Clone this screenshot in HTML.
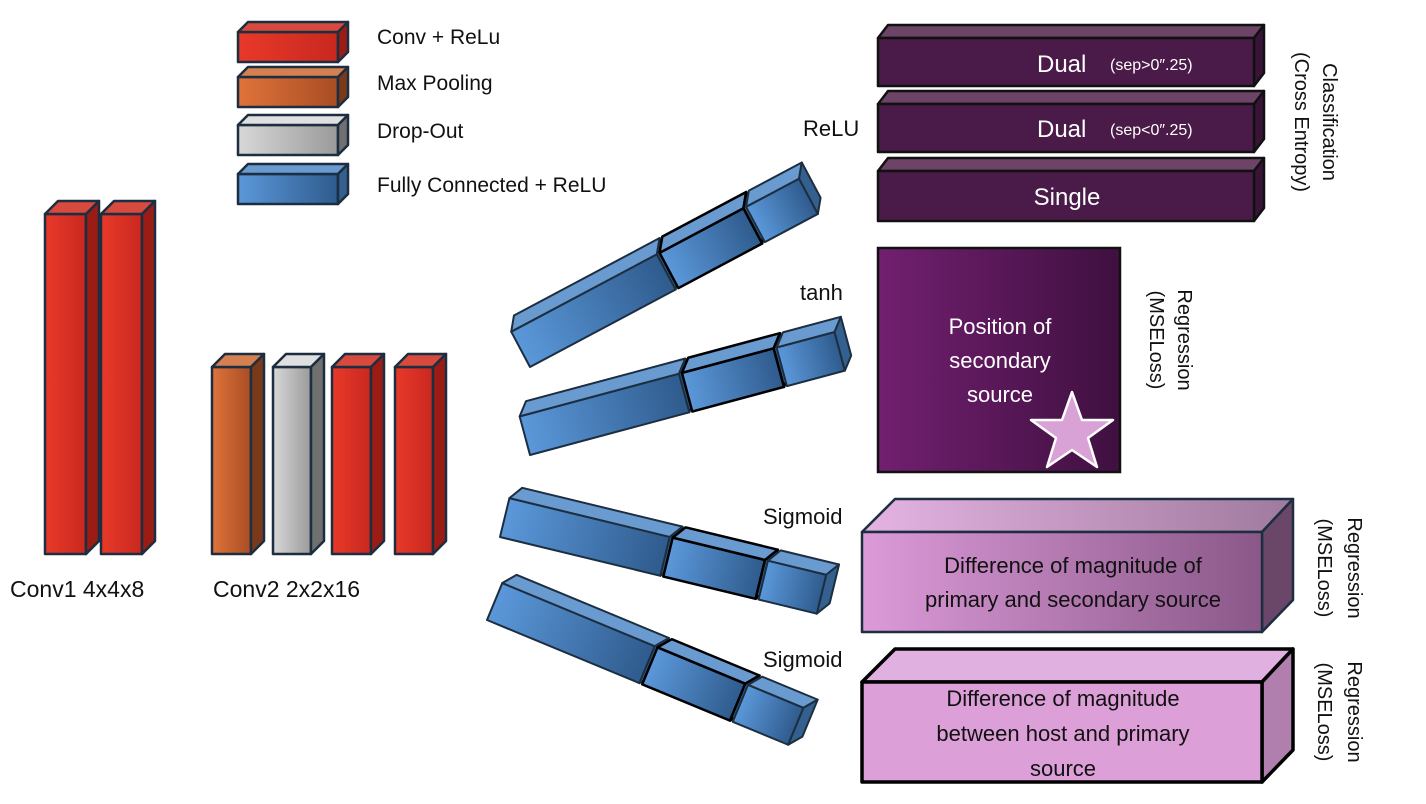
<!DOCTYPE html>
<html><head><meta charset="utf-8"><style>
html,body{margin:0;padding:0;background:#fff;}
svg{display:block;font-family:"Liberation Sans",sans-serif;}
</style></head><body>
<svg width="1426" height="804" viewBox="0 0 1426 804" xmlns="http://www.w3.org/2000/svg">
<defs>
<linearGradient id="red" x1="0" x2="1"><stop offset="0" stop-color="#e8392a"/><stop offset="1" stop-color="#c9281e"/></linearGradient>
<linearGradient id="org" x1="0" x2="1"><stop offset="0" stop-color="#e0733a"/><stop offset="1" stop-color="#a84d24"/></linearGradient>
<linearGradient id="gry" x1="0" x2="1"><stop offset="0" stop-color="#d8d8d8"/><stop offset="1" stop-color="#9a9a9a"/></linearGradient>
<linearGradient id="blu" x1="0" x2="1"><stop offset="0" stop-color="#5b98da"/><stop offset="1" stop-color="#2f5b8d"/></linearGradient>
<linearGradient id="pos" x1="0" x2="1"><stop offset="0" stop-color="#721f70"/><stop offset="1" stop-color="#3f1040"/></linearGradient>
<linearGradient id="mag" x1="0" x2="1"><stop offset="0" stop-color="#dc9ad9"/><stop offset="1" stop-color="#8a5888"/></linearGradient>
<linearGradient id="magtop" x1="0" x2="1"><stop offset="0" stop-color="#e4b3e2"/><stop offset="1" stop-color="#a07a9e"/></linearGradient>
<g id="fcs" stroke="#1c2e40" stroke-width="2" stroke-linejoin="round">
 <rect x="0" y="-40" width="165" height="40" fill="url(#blu)"/>
 <polygon points="0,-40 10,-53 175,-53 165,-40" fill="#6a9bd0"/>
 <polygon points="165,-40 175,-53 175,-13 165,0" fill="#34608f"/>
 <g stroke="#000" stroke-width="2.5">
 <rect x="168" y="-40" width="95" height="40" fill="url(#blu)"/>
 <polygon points="168,-40 178,-53 273,-53 263,-40" fill="#6a9bd0"/>
 <polygon points="263,-40 273,-53 273,-13 263,0" fill="#34608f"/>
 </g>
 <rect x="266" y="-40" width="60" height="40" fill="url(#blu)"/>
 <polygon points="266,-40 276,-53 336,-53 326,-40" fill="#6a9bd0"/>
 <polygon points="326,-40 336,-53 336,-13 326,0" fill="#34608f"/>
</g>
<g id="tall" stroke="#1c2e40" stroke-width="2.5" stroke-linejoin="round">
 <rect x="0" y="0" width="41" height="340" fill="url(#red)"/>
 <polygon points="0,0 13,-13 54,-13 41,0" fill="#d84a3e"/>
 <polygon points="41,0 54,-13 54,327 41,340" fill="#9a1c15"/>
</g>
</defs>

<!-- legend -->
<g stroke="#1c2e40" stroke-width="2.5" stroke-linejoin="round">
 <g transform="translate(238,32)"><rect width="100" height="30" fill="url(#red)"/><polygon points="0,0 10,-10 110,-10 100,0" fill="#d84a3e"/><polygon points="100,0 110,-10 110,20 100,30" fill="#9a1c15"/></g>
 <g transform="translate(238,77)"><rect width="100" height="30" fill="url(#org)"/><polygon points="0,0 10,-10 110,-10 100,0" fill="#d58050"/><polygon points="100,0 110,-10 110,20 100,30" fill="#7a3a1a"/></g>
 <g transform="translate(238,125)"><rect width="100" height="30" fill="url(#gry)"/><polygon points="0,0 10,-10 110,-10 100,0" fill="#e0e0e0"/><polygon points="100,0 110,-10 110,20 100,30" fill="#707070"/></g>
 <g transform="translate(238,174)"><rect width="100" height="30" fill="url(#blu)"/><polygon points="0,0 10,-10 110,-10 100,0" fill="#6a9bd0"/><polygon points="100,0 110,-10 110,20 100,30" fill="#34608f"/></g>
</g>
<g font-size="21" fill="#111">
 <text x="377" y="44">Conv + ReLu</text>
 <text x="377" y="90">Max Pooling</text>
 <text x="377" y="138">Drop-Out</text>
 <text x="377" y="192">Fully Connected + ReLU</text>
</g>

<!-- conv pillars -->
<use href="#tall" transform="translate(45,214)"/>
<use href="#tall" transform="translate(101,214)"/>
<g stroke="#1c2e40" stroke-width="2.5" stroke-linejoin="round">
 <g transform="translate(212,367)"><rect width="39" height="187" fill="url(#org)"/><polygon points="0,0 13,-13 52,-13 39,0" fill="#d58050"/><polygon points="39,0 52,-13 52,174 39,187" fill="#7a3a1a"/></g>
 <g transform="translate(273,367)"><rect width="38" height="187" fill="url(#gry)"/><polygon points="0,0 13,-13 51,-13 38,0" fill="#e0e0e0"/><polygon points="38,0 51,-13 51,174 38,187" fill="#707070"/></g>
 <g transform="translate(332,367)"><rect width="39" height="187" fill="url(#red)"/><polygon points="0,0 13,-13 52,-13 39,0" fill="#d84a3e"/><polygon points="39,0 52,-13 52,174 39,187" fill="#9a1c15"/></g>
 <g transform="translate(395,367)"><rect width="38" height="187" fill="url(#red)"/><polygon points="0,0 13,-13 51,-13 38,0" fill="#d84a3e"/><polygon points="38,0 51,-13 51,174 38,187" fill="#9a1c15"/></g>
</g>
<g font-size="23" fill="#111">
 <text x="10" y="597">Conv1 4x4x8</text>
 <text x="213" y="597">Conv2 2x2x16</text>
</g>

<!-- FC groups -->
<use href="#fcs" transform="translate(530,367) rotate(-28)"/>
<use href="#fcs" transform="translate(530,455) rotate(-15)"/>
<use href="#fcs" transform="translate(500,537) rotate(13.6)"/>
<use href="#fcs" transform="translate(487,620) rotate(22.5)"/>

<g font-size="22" fill="#111">
 <text x="803" y="136">ReLU</text>
 <text x="800" y="300">tanh</text>
 <text x="763" y="524">Sigmoid</text>
 <text x="763" y="667">Sigmoid</text>
</g>

<!-- classification boxes -->
<g stroke="#111" stroke-width="2.5" stroke-linejoin="round">
 <g transform="translate(878,38)"><polygon points="0,0 10,-13 386,-13 376,0" fill="#6d4468"/><polygon points="376,0 386,-13 386,35 376,48" fill="#3a1338"/><rect width="376" height="48" fill="#4a1a48"/></g>
 <g transform="translate(878,104)"><polygon points="0,0 10,-13 386,-13 376,0" fill="#6d4468"/><polygon points="376,0 386,-13 386,35 376,48" fill="#3a1338"/><rect width="376" height="48" fill="#4a1a48"/></g>
 <g transform="translate(878,171)"><polygon points="0,0 10,-13 386,-13 376,0" fill="#6d4468"/><polygon points="376,0 386,-13 386,37 376,50" fill="#3a1338"/><rect width="376" height="50" fill="#4a1a48"/></g>
</g>
<g fill="#fff">
 <text x="1037" y="72" font-size="24">Dual</text><text x="1110" y="70" font-size="16">(sep&gt;0&#8243;.25)</text>
 <text x="1037" y="137" font-size="24">Dual</text><text x="1110" y="135" font-size="16">(sep&lt;0&#8243;.25)</text>
 <text x="1067" y="205" font-size="24" text-anchor="middle">Single</text>
</g>

<!-- position box -->
<rect x="878" y="248" width="242" height="224" fill="url(#pos)" stroke="#111" stroke-width="2.5"/>
<g fill="#fff" font-size="22" text-anchor="middle">
 <text x="1000" y="334">Position of</text>
 <text x="1000" y="368">secondary</text>
 <text x="1000" y="402">source</text>
</g>
<polygon points="1072,392 1082,420 1113,420 1088,438 1097,467 1072,450 1047,467 1056,438 1031,420 1062,420" fill="#d9a2d6" stroke="#fff" stroke-width="2.5" stroke-linejoin="round"/>

<!-- magnitude boxes -->
<g stroke="#1c2e40" stroke-width="2.5" stroke-linejoin="round">
 <polygon points="862,532 895,499 1293,499 1262,532" fill="url(#magtop)"/>
 <polygon points="1262,532 1293,499 1293,600 1262,632" fill="#6a4668"/>
 <rect x="862" y="532" width="400" height="100" fill="url(#mag)"/>
</g>
<g stroke="#000" stroke-width="3.5" stroke-linejoin="round">
 <polygon points="862,682 895,649 1293,649 1262,682" fill="#e0b0e0"/>
 <polygon points="1262,682 1293,649 1293,750 1262,782" fill="#b07fae"/>
 <rect x="862" y="682" width="400" height="100" fill="#dc9fd8"/>
</g>
<g fill="#111" font-size="22" text-anchor="middle">
 <text x="1073" y="573">Difference of magnitude of</text>
 <text x="1073" y="607">primary and secondary source</text>
 <text x="1063" y="706">Difference of magnitude</text>
 <text x="1063" y="741">between host and primary</text>
 <text x="1063" y="776">source</text>
</g>

<!-- rotated labels -->
<g fill="#111" font-size="20" text-anchor="middle">
 <text transform="translate(1323,122) rotate(90)">Classification</text>
 <text transform="translate(1295,122) rotate(90)">(Cross Entropy)</text>
 <text transform="translate(1178,340) rotate(90)">Regression</text>
 <text transform="translate(1150,340) rotate(90)">(MSELoss)</text>
 <text transform="translate(1348,568) rotate(90)">Regression</text>
 <text transform="translate(1318,568) rotate(90)">(MSELoss)</text>
 <text transform="translate(1348,712) rotate(90)">Regression</text>
 <text transform="translate(1318,712) rotate(90)">(MSELoss)</text>
</g>
</svg>
</body></html>
